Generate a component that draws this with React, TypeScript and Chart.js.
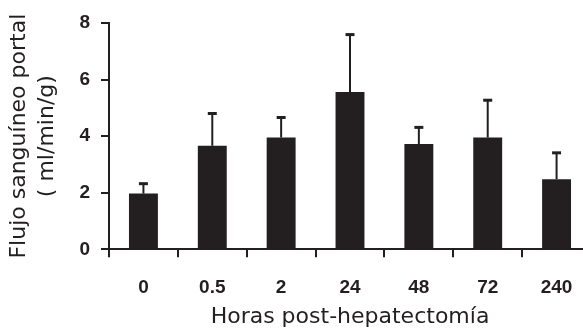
import React, { useEffect, useRef } from "react";
import { Chart, registerables } from "chart.js";

Chart.register(...registerables);

const categories = ["0", "0.5", "2", "24", "48", "72", "240"];
const flowMeans = [1.97, 3.66, 3.95, 5.56, 3.72, 3.95, 2.48];
const flowErrors = [0.35, 1.14, 0.71, 2.03, 0.59, 1.32, 0.93];
const yTicks = [0, 2, 4, 6, 8];

const INK = "#231f20";

const errorBarPlugin = {
  id: "errorBars",
  afterDatasetsDraw(chart: any) {
    const meta = chart.getDatasetMeta(0);
    const yScale = chart.scales.y;
    const ctx = chart.ctx;
    ctx.save();
    ctx.strokeStyle = INK;
    meta.data.forEach((bar: any, i: number) => {
      const x = bar.x;
      const yBar = yScale.getPixelForValue(flowMeans[i]);
      const yTop = yScale.getPixelForValue(flowMeans[i] + flowErrors[i]);
      ctx.lineWidth = 2;
      ctx.beginPath();
      ctx.moveTo(x, yBar);
      ctx.lineTo(x, yTop);
      ctx.stroke();
      ctx.lineWidth = 3;
      ctx.beginPath();
      ctx.moveTo(x - 4.5, yTop);
      ctx.lineTo(x + 4.5, yTop);
      ctx.stroke();
    });
    ctx.restore();
  },
};

export default function App() {
  const canvasRef = useRef<HTMLCanvasElement | null>(null);

  useEffect(() => {
    if (!canvasRef.current) return;
    const chart = new Chart(canvasRef.current, {
      type: "bar",
      data: {
        labels: categories,
        datasets: [
          {
            data: flowMeans,
            backgroundColor: INK,
            borderWidth: 0,
            barPercentage: 0.42,
            categoryPercentage: 1,
          },
        ],
      },
      options: {
        responsive: false,
        animation: false,
        layout: { padding: { top: 23, left: 0, right: 9, bottom: 0 } },
        plugins: {
          legend: { display: false },
          tooltip: { enabled: false },
        },
        scales: {
          x: {
            offset: true,
            grid: {
              offset: true,
              drawOnChartArea: false,
              drawTicks: true,
              tickLength: 8,
              lineWidth: 2,
              tickColor: INK,
              color: INK,
            },
            border: { display: true, color: INK, width: 2 },
            ticks: {
              color: INK,
              padding: 19,
              font: { family: "Liberation Sans", size: 19, weight: "bold" },
              maxRotation: 0,
            },
            title: {
              display: true,
              text: "Horas post-hepatectomía",
              color: INK,
              font: { family: "DejaVu Sans", size: 22 },
              padding: { top: 0, bottom: 0 },
            },
            afterFit(scale: any) {
              scale.height = 80.7;
            },
          },
          y: {
            min: 0,
            max: 8,
            afterBuildTicks(scale: any) {
              scale.ticks = yTicks.map((v) => ({ value: v }));
            },
            grid: {
              drawOnChartArea: false,
              drawTicks: true,
              tickLength: 8,
              lineWidth: 2,
              tickColor: INK,
              color: INK,
            },
            border: { display: true, color: INK, width: 2 },
            ticks: {
              color: INK,
              padding: 11,
              font: { family: "Liberation Sans", size: 19, weight: "bold" },
            },
            title: {
              display: true,
              text: ["Flujo sanguíneo portal", "( ml/min/g)"],
              color: INK,
              font: { family: "DejaVu Sans", size: 22, lineHeight: 1.27 },
              padding: { top: 5, bottom: 0 },
            },
            afterFit(scale: any) {
              scale.width = 109;
            },
          },
        },
      },
      plugins: [errorBarPlugin],
    });
    return () => chart.destroy();
  }, []);

  return (
    <div
      style={{
        position: "fixed",
        left: 0,
        top: 0,
        width: 583,
        height: 330,
        overflow: "hidden",
        background: "#ffffff",
      }}
    >
      <canvas ref={canvasRef} width={600} height={330} style={{ display: "block" }} />
    </div>
  );
}
